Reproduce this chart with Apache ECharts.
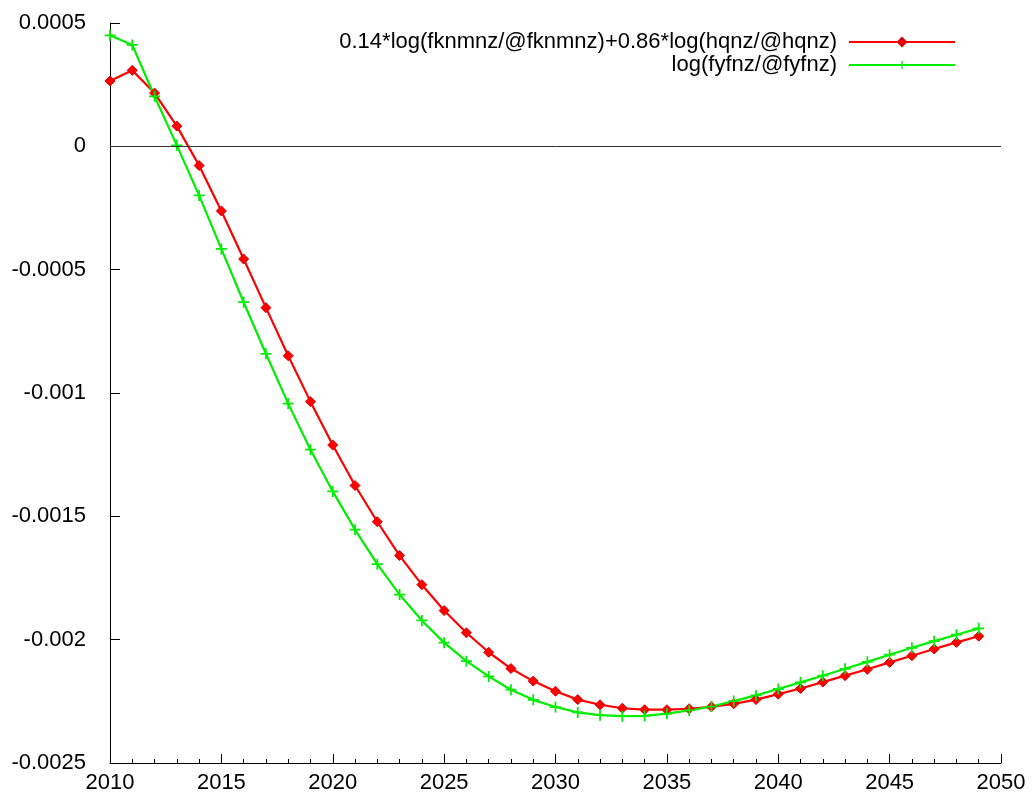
<!DOCTYPE html>
<html>
<head>
<meta charset="utf-8">
<script src="https://cdn.jsdelivr.net/npm/echarts@6/dist/echarts.min.js"></script>
<style>
  html, body { margin: 0; padding: 0; background: #fff; }
  #chart { width: 1032px; height: 798px; }
</style>
</head>
<body>
<div id="chart"></div>
<script>
// 年份
const years = [
  2010, 2011, 2012, 2013, 2014, 2015, 2016, 2017, 2018, 2019,
  2020, 2021, 2022, 2023, 2024, 2025, 2026, 2027, 2028, 2029,
  2030, 2031, 2032, 2033, 2034, 2035, 2036, 2037, 2038, 2039,
  2040, 2041, 2042, 2043, 2044, 2045, 2046, 2047, 2048, 2049
]

// 0.14*log(fknmnz/@fknmnz)+0.86*log(hqnz/@hqnz)
const redValues = [
  0.000265, 0.000308, 0.000216, 0.000082, -0.000078, -0.000262, -0.000457, -0.000654, -0.000849, -0.001035,
  -0.001211, -0.001375, -0.001522, -0.001659, -0.001777, -0.001882, -0.001972, -0.002051, -0.002117, -0.002168,
  -0.002209, -0.002243, -0.002264, -0.002278, -0.002284, -0.002284, -0.002280, -0.002272, -0.002260, -0.002243,
  -0.002221, -0.002198, -0.002172, -0.002146, -0.002120, -0.002092, -0.002065, -0.002038, -0.002011, -0.001986
]

// log(fyfnz/@fyfnz)
const greenValues = [
  0.000450, 0.000411, 0.000203, 0.000004, -0.000199, -0.000416, -0.000632, -0.000841, -0.001043, -0.001230,
  -0.001399, -0.001554, -0.001694, -0.001817, -0.001922, -0.002012, -0.002087, -0.002149, -0.002203, -0.002244,
  -0.002273, -0.002295, -0.002306, -0.002310, -0.002309, -0.002300, -0.002287, -0.002271, -0.002249, -0.002226,
  -0.002200, -0.002173, -0.002146, -0.002118, -0.002090, -0.002061, -0.002033, -0.002006, -0.001980, -0.001954
]

const redName = '0.14*log(fknmnz/@fknmnz)+0.86*log(hqnz/@hqnz)'
const greenName = 'log(fyfnz/@fyfnz)'

const FS = 22

// 加号形状的标记
const plusPath = 'path://M4.2,0H5.8V4.2H10V5.8H5.8V10H4.2V5.8H0V4.2H4.2Z'

const chart = echarts.init(document.getElementById('chart'))

const option = {
  animation: false,
  grid: { left: 110, right: 31, top: 23, bottom: 35 },
  legend: [
    {
      data: [redName],
      right: 71,
      top: 26,
      align: 'right',
      itemWidth: 106,
      itemHeight: 10,
      textStyle: { fontSize: FS, color: '#000', padding: [0, 7, 0, 0] }
    },
    {
      data: [greenName],
      right: 71,
      top: 49,
      align: 'right',
      itemWidth: 106,
      itemHeight: 10,
      textStyle: { fontSize: FS, color: '#000', padding: [0, 7, 0, 0] }
    }
  ],
  xAxis: {
    type: 'value',
    min: 2010,
    max: 2050,
    interval: 5,
    axisLine: { show: true, onZero: false, lineStyle: { color: '#000' } },
    axisTick: { show: true, inside: true, length: 9, lineStyle: { color: '#000' } },
    minorTick: { show: true, splitNumber: 5, length: 4, lineStyle: { color: '#000' } },
    splitLine: { show: false },
    axisLabel: { fontSize: FS, color: '#000', margin: 9, formatter: v => String(v) }
  },
  yAxis: {
    type: 'value',
    min: -0.0025,
    max: 0.0005,
    interval: 0.0005,
    axisLine: { show: true, lineStyle: { color: '#000' } },
    axisTick: { show: true, inside: true, length: 10, lineStyle: { color: '#000' } },
    splitLine: { show: false },
    axisLabel: {
      fontSize: FS, color: '#000', margin: 24,
      formatter: v => String(parseFloat(v.toFixed(6)))
    }
  },
  series: [
    {
      name: redName,
      type: 'line',
      data: years.map((y, i) => [y, redValues[i]]),
      symbol: 'diamond',
      symbolSize: 10,
      lineStyle: { color: '#ff0000', width: 2.2 },
      itemStyle: { color: '#ff0000', borderColor: '#d80000', borderWidth: 1 },
      markLine: {
        silent: true,
        symbol: 'none',
        label: { show: false },
        lineStyle: { color: '#333', width: 1, type: 'solid' },
        data: [{ yAxis: 0 }]
      }
    },
    {
      name: greenName,
      type: 'line',
      data: years.map((y, i) => [y, greenValues[i]]),
      symbol: plusPath,
      symbolSize: 11,
      lineStyle: { color: '#00ee00', width: 2.2 },
      itemStyle: { color: '#00ee00', borderWidth: 0 }
    }
  ]
}

chart.setOption(option)
</script>
</body>
</html>
